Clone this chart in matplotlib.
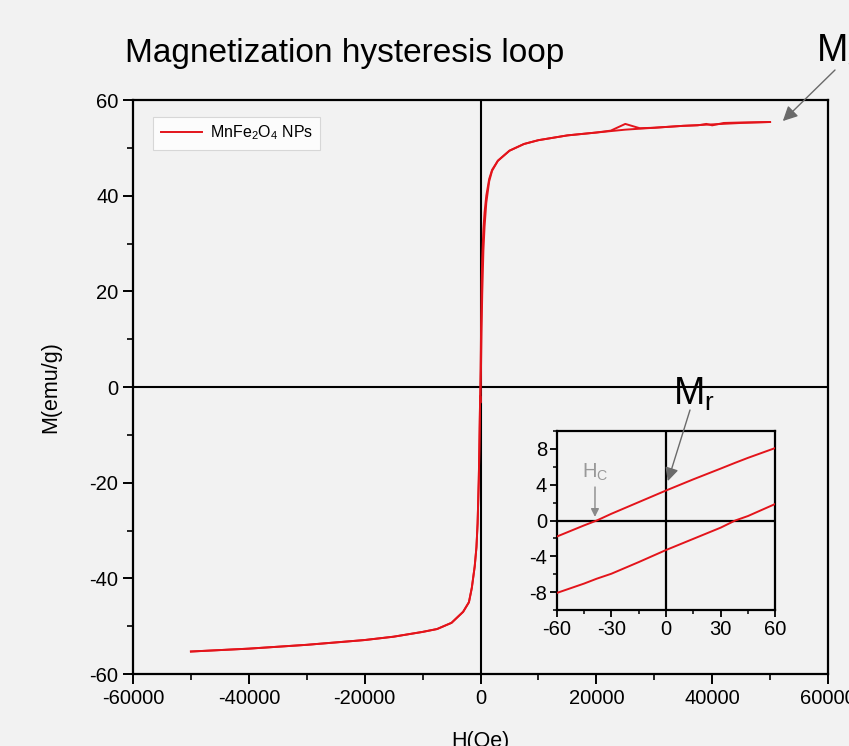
import matplotlib
matplotlib.use("Agg")
import matplotlib.pyplot as plt
from matplotlib.ticker import MultipleLocator

plt.rcParams['font.family'] = ['Liberation Sans', 'DejaVu Sans']
plt.rcParams['axes.unicode_minus'] = False
plt.rcParams['mathtext.default'] = 'regular'

# ---- data ----
# descending-field branch (upper branch)
H_desc = [50000, 45000, 42000, 40000, 39000, 37500, 35000, 30000, 27500, 25000, 22500,
          20000, 15000, 10000, 7500, 5000, 3000, 2000, 1500, 1000, 700, 500, 300,
          200, 100, 60, 0, -38, -60, -100, -200, -300, -500, -700, -1000, -1500,
          -2000, -3000, -5000, -7500, -10000, -15000, -20000, -25000, -30000,
          -35000, -40000, -45000, -50000]
M_desc = [55.4, 55.3, 55.2, 54.7, 55.0, 54.7, 54.6, 54.2, 54.1, 55.0, 53.6,
          53.2, 52.6, 51.6, 50.8, 49.4, 47.3, 45.4, 43.5, 40.0, 36.5, 33.0, 27.0,
          22.0, 12.5, 8.1, 3.3, 0.0, -1.8, -5.0, -13.0, -19.5, -28.5, -33.5, -37.5, -42.0,
          -45.0, -47.0, -49.3, -50.6, -51.2, -52.2, -52.9, -53.4, -53.9,
          -54.3, -54.7, -55.0, -55.3]
# ascending-field branch (lower branch)
H_asc = [-50000, -45000, -40000, -35000, -30000, -25000, -20000, -15000, -10000,
         -7500, -5000, -3000, -2000, -1500, -1000, -700, -500, -300, -200, -100,
         -60, 0, 38, 60, 100, 200, 300, 500, 700, 1000, 1500, 2000, 3000, 5000,
         7500, 10000, 15000, 20000, 25000, 30000, 35000, 40000, 45000, 50000]
M_asc = [-55.3, -55.0, -54.7, -54.3, -53.9, -53.4, -52.9, -52.2, -51.2,
         -50.6, -49.3, -47.0, -45.0, -42.0, -37.5, -33.5, -28.5, -19.5, -13.0, -5.0,
         -1.9, -3.3, 0.0, 1.85, 5.0, 13.0, 19.5, 28.5, 33.5, 38.5, 43.0, 45.2, 47.3, 49.4,
         50.8, 51.6, 52.6, 53.2, 53.8, 54.2, 54.6, 54.9, 55.2, 55.4]

# inset (low-field region)
H_in = [-60, -45, -38, -30, -15, 0, 15, 30, 38, 45, 60]
M_in_up = [-1.8, -0.55, 0.0, 0.75, 2.05, 3.35, 4.6, 5.8, 6.45, 7.0, 8.1]
M_in_down = [-8.1, -7.05, -6.5, -5.95, -4.65, -3.3, -2.05, -0.8, 0.0, 0.5, 1.85]

series_label = 'MnFe$_2$O$_4$ NPs'
title = 'Magnetization hysteresis loop'
xlabel = 'H(Oe)'
ylabel = 'M(emu/g)'

RED = '#e3141b'
BG = '#f2f2f2'
W, Hh = 849, 746

fig = plt.figure(figsize=(W / 100, Hh / 100), dpi=100, facecolor=BG)

def fx(px):
    return px / W

def fy(py):
    return 1 - py / Hh

# ---- main axes ----
ax = fig.add_axes([fx(133), fy(674), (828 - 133) / W, (674 - 100) / Hh])
ax.set_facecolor(BG)
ax.plot(H_desc, M_desc, color=RED, lw=1.4, label=series_label, zorder=3)
ax.plot(H_asc, M_asc, color=RED, lw=1.4, zorder=3)
ax.axhline(0, color='black', lw=1.5, zorder=2)
ax.axvline(0, color='black', lw=1.5, zorder=2)
ax.set_xlim(-60000, 60000)
ax.set_ylim(-60, 60)
ax.xaxis.set_major_locator(MultipleLocator(20000))
ax.xaxis.set_minor_locator(MultipleLocator(10000))
ax.yaxis.set_major_locator(MultipleLocator(20))
ax.yaxis.set_minor_locator(MultipleLocator(10))
ax.tick_params(which='major', direction='out', length=7, width=1.4, labelsize=14.5,
               top=False, right=False)
ax.tick_params(which='minor', direction='out', length=4, width=1.2,
               top=False, right=False)
for s in ax.spines.values():
    s.set_linewidth(1.6)
ax.set_xlabel(xlabel, fontsize=15.5, labelpad=17)
ax.set_ylabel(ylabel, fontsize=15.5, labelpad=20)

leg = ax.legend(loc='upper left', bbox_to_anchor=(0.018, 0.985), fontsize=11.5,
                frameon=True, fancybox=False, handlelength=2.6, borderpad=0.45,
                handletextpad=0.5)
leg.get_frame().set_facecolor('white')
leg.get_frame().set_edgecolor('#d0d0d0')
leg.get_frame().set_linewidth(0.8)

fig.text(fx(125), fy(62), title, fontsize=24, ha='left', va='baseline')

# Ms annotation
ax.annotate('', xy=(52200, 55.6), xycoords='data',
            xytext=(835, Hh - 70), textcoords='figure pixels',
            arrowprops=dict(arrowstyle='-|>', color='#6a6a6a', lw=1.0,
                            mutation_scale=22, shrinkA=0, shrinkB=0))
fig.text(fx(816), fy(62), 'M$_s$', fontsize=27, ha='left', va='baseline')

# ---- inset ----
axi = fig.add_axes([fx(556.7), fy(610), (775.3 - 556.7) / W, (610 - 431) / Hh])
axi.set_facecolor(BG)
axi.plot(H_in, M_in_up, color=RED, lw=1.4, zorder=3)
axi.plot(H_in, M_in_down, color=RED, lw=1.4, zorder=3)
axi.axhline(0, color='black', lw=1.6, zorder=2)
axi.axvline(0, color='black', lw=1.6, zorder=2)
axi.set_xlim(-60, 60)
axi.set_ylim(-10, 10)
axi.xaxis.set_major_locator(MultipleLocator(30))
axi.xaxis.set_minor_locator(MultipleLocator(15))
axi.yaxis.set_major_locator(MultipleLocator(4))
axi.yaxis.set_minor_locator(MultipleLocator(2))
axi.set_yticks([-8, -4, 0, 4, 8])
axi.tick_params(which='major', direction='out', length=5, width=1.3, labelsize=14.5,
                top=False, right=False, pad=2)
axi.tick_params(which='minor', direction='out', length=3, width=1.1,
                top=False, right=False)
for s in axi.spines.values():
    s.set_linewidth(1.6)

# Mr annotation
fig.text(fx(694), fy(405), 'M$_r$', fontsize=27, ha='center', va='baseline')
axi.annotate('', xy=(1.0, 4.4), xycoords='data',
             xytext=(690, Hh - 410), textcoords='figure pixels',
             arrowprops=dict(arrowstyle='-|>', color='#6a6a6a', lw=1.0,
                             mutation_scale=20, shrinkA=0, shrinkB=0))
# Hc annotation
fig.text(fx(595), fy(478), 'H$_C$', fontsize=14.5, color='#999999',
         ha='center', va='baseline')
axi.annotate('', xy=(-39, 0.4), xycoords='data',
             xytext=(595, Hh - 487), textcoords='figure pixels',
             arrowprops=dict(arrowstyle='-|>', color='#8a8a8a', lw=1.0,
                             mutation_scale=12, shrinkA=0, shrinkB=0))

fig.savefig('out.png', dpi=100, facecolor=BG)
